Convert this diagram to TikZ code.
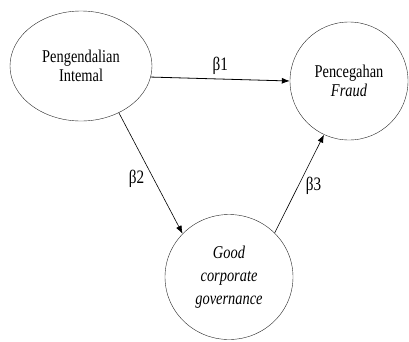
\documentclass[tikz,border=0pt]{standalone}
\usepackage{fontspec}
\setmainfont[FakeStretch=0.8]{Liberation Serif}
\usetikzlibrary{shapes.geometric, arrows.meta}

\tikzset{
  construct/.style={ellipse, draw=black!85, thin, align=center,
    inner sep=0pt, font=\fontsize{18}{19}\selectfont},
  path/.style={semithick, -{Latex[length=8pt, width=6pt]}},
  coef/.style={font=\fontsize{19}{20}\selectfont}
}

\begin{document}
\begin{tikzpicture}[x=1pt, y=-1pt]
  \useasboundingbox (0, 0) rectangle (409, 341);

  % Pengendalian Internal
  \node [construct, minimum width=142pt, minimum height=110pt] (pi)
        at (81, 66) {Pengendalian\\Intemal};

  % Pencegahan Fraud
  \node [construct, minimum width=118pt, minimum height=118pt] (pf)
        at (349, 81) {Pencegahan\\\textit{Fraud}};

  % Good corporate governance
  \node [construct, minimum width=128pt, minimum height=125pt] (gcg)
        at (229, 277) {\textit{Good}\\[4pt]\textit{corporate}\\[4pt]\textit{governance}};

  % Edges
  \draw [path, thick] (pi.-9) -- (pf.west)
        node [coef, midway, above=1pt] {β1};
  \draw [path] (pi.-51) -- (gcg.137)
        node [coef, pos=0.55, left=6pt] {β2};
  \draw [path] (gcg.44) -- (pf.-115)
        node [coef, pos=0.48, right=4pt] {β3};
\end{tikzpicture}
\end{document}
